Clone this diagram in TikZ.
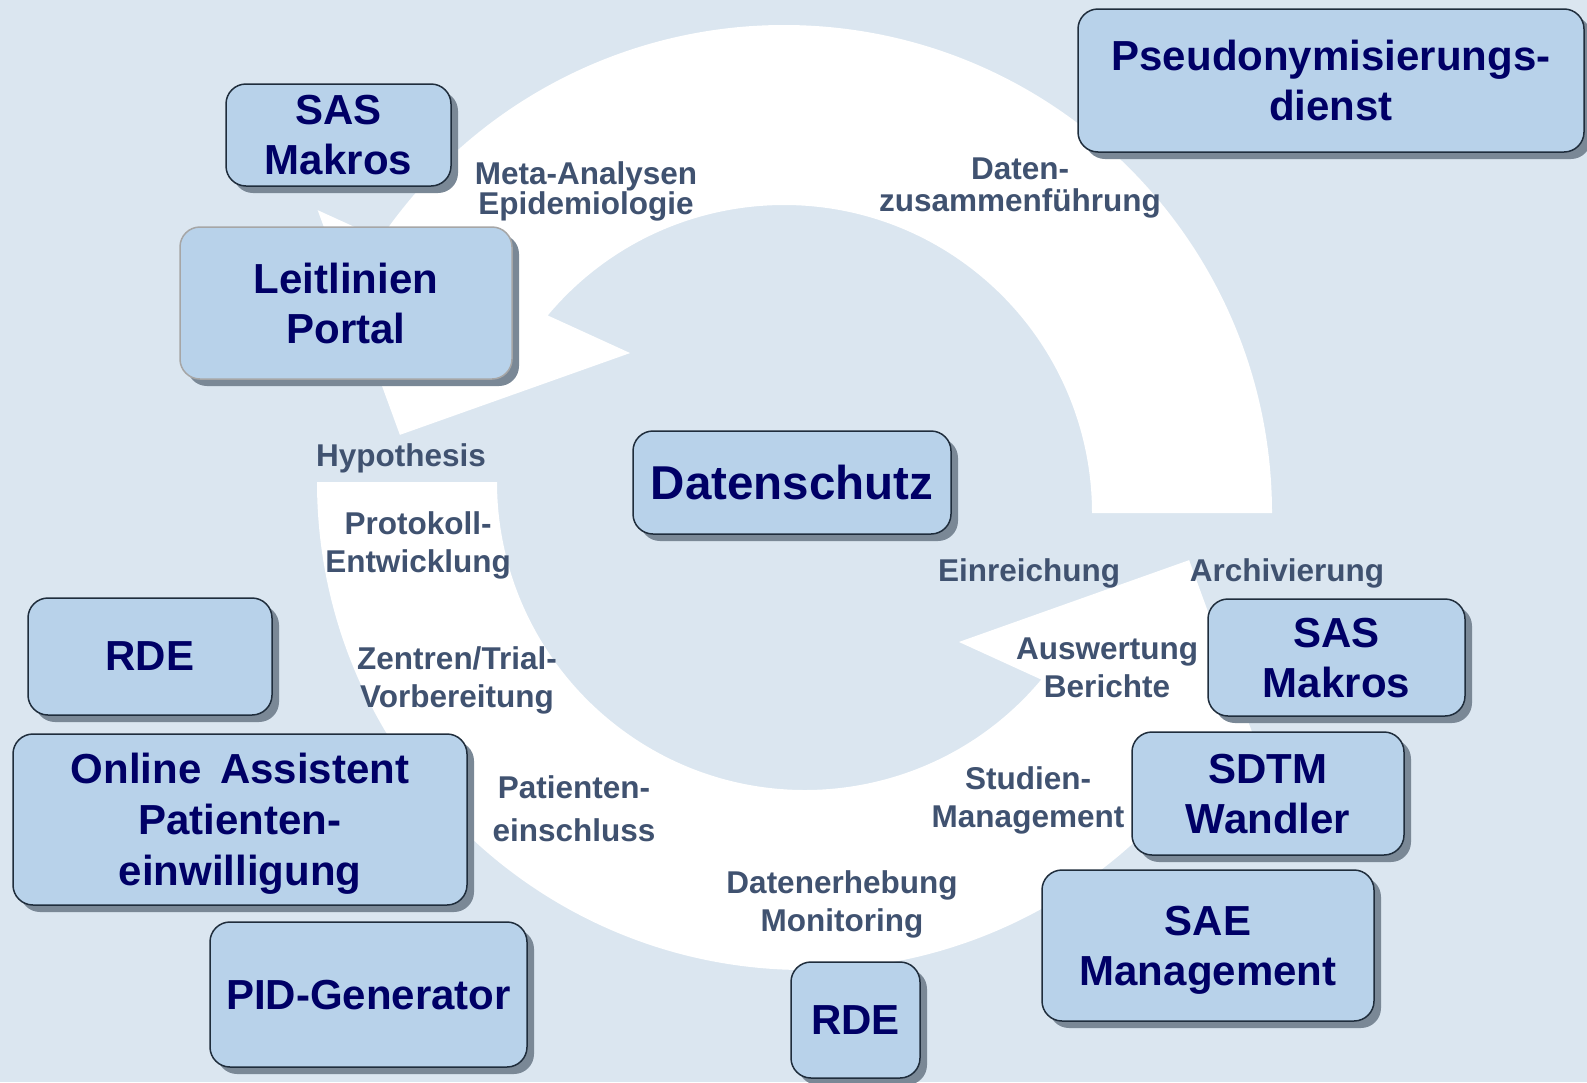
\documentclass[tikz,border=0pt]{standalone}
\usepackage{fontspec}
\setmainfont{Liberation Sans}
\usepackage{tikz}
\usetikzlibrary{shadows}
\definecolor{bgblue}{RGB}{219,230,240}
\definecolor{boxfill}{RGB}{184,210,234}
\definecolor{boxline}{RGB}{31,45,60}
\definecolor{shadowgray}{RGB}{122,136,150}
\definecolor{navy}{RGB}{0,0,102}
\definecolor{labelgray}{RGB}{64,82,112}

\tikzset{
  box/.style={draw=boxline, line width=1.5pt, fill=boxfill, rounded corners=20pt,
    align=center, text=navy, text depth=0pt, font=\fontsize{42}{50}\selectfont\bfseries,
    drop shadow={shadow xshift=7pt, shadow yshift=-7pt, fill=shadowgray, opacity=1}},
  lbl/.style={text=labelgray, align=center, inner sep=0pt, anchor=north,
    font=\fontsize{31.5}{38}\selectfont\bfseries},
}

\begin{document}
\begin{tikzpicture}[x=1pt, y=-1pt]
\useasboundingbox (0,0) rectangle (1587,1082);
\fill[bgblue] (0,0) rectangle (1587,1082);

% the two white arcs of the cycle
\foreach \cx/\cy/\rot in {784/513/0, 805/482/180}
  \fill[white, shift={(\cx,\cy)}, yscale=-1, rotate=\rot]
    (0:308) -- (0:488) arc[start angle=0, end angle=145.8, radius=488]
    -- (147:556) -- (168.5:392) -- (133.9:222) -- (140.1:308)
    arc[start angle=140.1, end angle=0, radius=308] -- cycle;

% steps
\node[lbl, font=\fontsize{31.5}{30}\selectfont\bfseries] (meta) at (586,161) {Meta-Analysen\\Epidemiologie};
\node[lbl, font=\fontsize{31.5}{32}\selectfont\bfseries] (zusammen) at (1020,158) {Daten-\\zusammenführung};
\node[lbl] (hypo) at (401,443) {Hypothesis};
\node[lbl] (proto) at (418,511) {Protokoll-\\Entwicklung};
\node[lbl] (zentren) at (457,646) {Zentren/Trial-\\Vorbereitung};
\node[lbl, font=\fontsize{31.5}{43}\selectfont\bfseries] (einschl) at (574,775) {Patienten-\\einschluss};
\node[lbl] (erhebung) at (842,870) {Datenerhebung\\Monitoring};
\node[lbl] (studien) at (1028,766) {Studien-\\Management};
\node[lbl] (einreich) at (1029,558) {Einreichung};
\node[lbl] (archiv) at (1287,558) {Archivierung};
\node[lbl] (auswert) at (1107,638) {Auswertung\\Berichte};

% tools
\node[box, minimum width=225pt, minimum height=102pt] (sasl) at (338.5,135) {SAS\\Makros};
\node[box, draw=gray!70, minimum width=332pt, minimum height=152pt] (leit) at (346,303) {Leitlinien\\Portal};
\node[box, minimum width=506pt, minimum height=143pt] (pseudo) at (1331,80.5) {Pseudonymisierungs-\\dienst};
\node[box, font=\fontsize{47.5}{54}\selectfont\bfseries, minimum width=318pt, minimum height=103pt] (datensch) at (792,482.5) {Datenschutz};
\node[box, minimum width=244pt, minimum height=117pt] (rdel) at (150,656.5) {RDE};
\node[box, font=\fontsize{42}{51}\selectfont\bfseries, minimum width=454pt, minimum height=171pt] (online) at (240,819.5) {Online\hskip0.45em Assistent\\Patienten-\\einwilligung};
\node[box, minimum width=317pt, minimum height=145pt] (pid) at (368.5,994.5) {PID-Generator};
\node[box, minimum width=129pt, minimum height=116pt] (rdeb) at (855.5,1020) {RDE};
\node[box, minimum width=257pt, minimum height=117pt] (sasr) at (1336.5,657.5) {SAS\\Makros};
\node[box, minimum width=272pt, minimum height=123pt] (sdtm) at (1268,793.5) {SDTM\\Wandler};
\node[box, minimum width=332pt, minimum height=151pt] (sae) at (1208,945.5) {SAE\\Management};

\end{tikzpicture}
\end{document}
